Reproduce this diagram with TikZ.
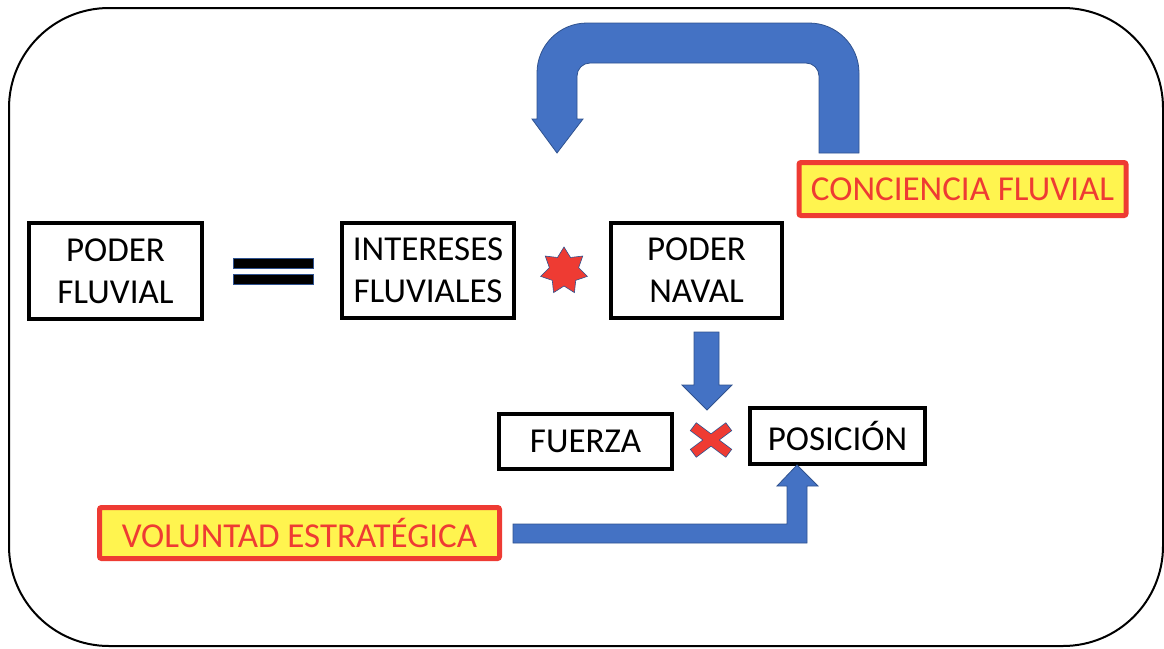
\documentclass[tikz,border=0pt]{standalone}
\usepackage{fontspec}
\setmainfont{Carlito}
\usepackage{xcolor}
\usepackage{tikz}
\usetikzlibrary{shapes.geometric}
\definecolor{arrowblue}{HTML}{4472C4}
\definecolor{arrowedge}{HTML}{2F528F}
\definecolor{signred}{HTML}{EE3B33}
\definecolor{noteyellow}{HTML}{FFF44F}
\begin{document}
\begin{tikzpicture}[x=1pt,y=-1pt]
\tikzstyle{box} = [draw,line width=4pt,align=center,inner sep=0,font=\fontsize{35}{42}\selectfont];
\tikzstyle{note} = [draw=signred,fill=noteyellow,text=signred,line width=5pt,rounded corners=2pt,inner sep=0,font=\fontsize{35}{42}\selectfont];
\tikzstyle{blockarrow} = [fill=arrowblue,draw=arrowedge,line width=0.8pt];
\useasboundingbox (0,0) rectangle (1164,648);
\draw [line width=2pt,rounded corners=100pt] (9,8) rectangle (1163,646);
\node [box,minimum width=173,minimum height=96] (fluvial) at (115.5,271) {PODER\\FLUVIAL};
\node [box,minimum width=172,minimum height=95] (intereses) at (428,270.5) {INTERESES\\FLUVIALES};
\node [box,minimum width=171,minimum height=95] (naval) at (696.5,270.5) {PODER\\NAVAL};
\node [box,minimum width=173,minimum height=55] (fuerza) at (585.5,441.5) {FUERZA};
\node [box,minimum width=175,minimum height=56] (posicion) at (837.5,436) {POSICIÓN};
\node [note,minimum width=400,minimum height=51] (voluntad) at (299.5,533) {VOLUNTAD ESTRATÉGICA};
\node [note,minimum width=327,minimum height=53] (conciencia) at (962.5,189) {CONCIENCIA FLUVIAL};
\node [star,star points=7,star point ratio=1.6,minimum size=48,inner sep=0,fill=signred,draw=arrowedge,line width=0.6pt] (por) at (564,271) {};
\draw [fill=black,draw=arrowedge,line width=0.8pt] (233,258) rectangle (313,268);
\draw [fill=black,draw=arrowedge,line width=0.8pt] (233,274) rectangle (313,284);
\coordinate (times) at (711,440);
\draw [arrowedge,line width=10.5pt] (times) ++(-18,-13.5) -- ++(36,27);
\draw [arrowedge,line width=10.5pt] (times) ++(-18,13.5) -- ++(36,-27);
\draw [signred,line width=9pt,shorten <=0.8pt,shorten >=0.8pt] (times) ++(-18,-13.5) -- ++(36,27);
\draw [signred,line width=9pt,shorten <=0.8pt,shorten >=0.8pt] (times) ++(-18,13.5) -- ++(36,-27);
\draw [blockarrow] (694,332) -- (719,332) -- (719,385) -- (732,385) -- (707,410) -- (682,385) -- (694,385) -- cycle;
\draw [blockarrow] (819,153) -- (859,153) -- (859,73) arc[start angle=0,end angle=-90,radius=50] -- (587,23) arc[start angle=-90,end angle=-180,radius=50] -- (537,119) -- (532,119) -- (557,153) -- (583,119) -- (577,119) -- (577,76) arc[start angle=180,end angle=270,radius=13] -- (806,63) arc[start angle=270,end angle=360,radius=13] -- cycle;
\draw [blockarrow] (513,524) -- (787,524) -- (787,486) -- (777,486) -- (797,465) -- (818,486) -- (807,486) -- (807,543) -- (513,543) -- cycle;
\end{tikzpicture}
\end{document}
